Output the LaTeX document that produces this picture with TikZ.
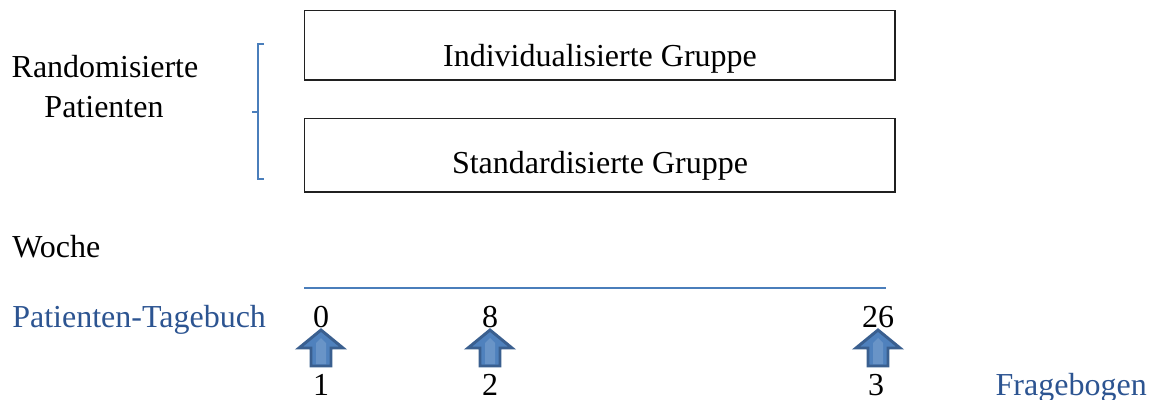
\documentclass[tikz,border=0pt]{standalone}
\usepackage{fontspec}
\setmainfont{Liberation Serif}
\definecolor{boxline}{HTML}{202020}
\definecolor{linblue}{HTML}{4A7EBB}
\definecolor{txtblue}{HTML}{2C5491}
\definecolor{arrfill}{HTML}{4F81BD}
\definecolor{arrline}{HTML}{3A5F8F}
\begin{document}
\begin{tikzpicture}[x=0.75pt,y=-0.75pt,
  lbl/.style={font=\fontsize{24}{28}\selectfont, inner sep=0pt, anchor=base},
  bluetxt/.style={lbl, text=txtblue},
  uparr/.style={fill=arrfill, draw=arrline, line width=2.2pt, line join=miter}]
\useasboundingbox (0,0) rectangle (1150,400);
% boxes
\draw[boxline, line width=1pt] (304.5,10.5) rectangle (895,80);
\draw[boxline, line width=1pt] (304.5,118.5) rectangle (895,192);
\node[lbl] (ind) at (600,66) {Individualisierte Gruppe};
\node[lbl] (std) at (600,173) {Standardisierte Gruppe};
% left label
\node[lbl] (rand) at (105,77) {Randomisierte};
\node[lbl] (pat) at (104,117) {Patienten};
% brace
\draw[linblue, line width=1.4pt] (264,44) -- (258,44) -- (258,179) -- (264,179);
\draw[linblue, line width=1.4pt] (252,112) -- (258,112);
% week
\node[lbl, anchor=base west] (woche) at (12,257) {Woche};
\coordinate (ls) at (304,288);
\coordinate (le) at (886,288);
\draw[linblue, line width=1.3pt] (ls) -- (le);
\node[bluetxt, anchor=base west] (tag) at (12,327) {Patienten-Tagebuch};
\node[lbl] (w0) at (321,327) {0};
\node[lbl] (w8) at (490,327) {8};
\node[lbl] (w26) at (878,327) {26};
% arrows
\foreach \cx/\nm in {321/a1,490/a2,878/a3}{
  \draw[uparr] (\cx,330) -- (\cx+22,348) -- (\cx+10,348) -- (\cx+10,366) -- (\cx-10,366) -- (\cx-10,348) -- (\cx-22,348) -- cycle;
  \fill[arrfill!85!white] (\cx-5,352) -- (\cx-5,343) -- (\cx,338) -- (\cx+5,343) -- (\cx+5,364) -- (\cx-5,364) -- cycle;
}
\node[lbl] (q1) at (321,395) {1};
\node[lbl] (q2) at (490,395) {2};
\node[lbl] (q3) at (876,395) {3};
\node[bluetxt, anchor=base east] (frag) at (1147,395) {Fragebogen};
\end{tikzpicture}
\end{document}
